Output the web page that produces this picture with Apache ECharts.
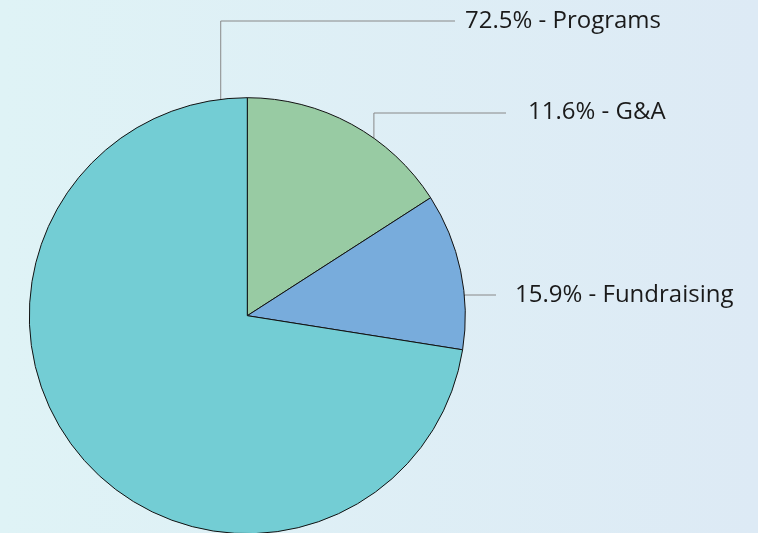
<!DOCTYPE html>
<html>
<head>
<meta charset="utf-8">
<script src="https://cdn.jsdelivr.net/npm/echarts@6/dist/echarts.min.js"></script>
<style>
html,body{margin:0;padding:0;}
#main{width:758px;height:533px;background:linear-gradient(to right,#dff3f6,#ddeaf5);}
</style>
</head>
<body>
<div id="main"></div>
<script>
const categories = ["Fundraising", "G&A", "Programs"];
const values = [15.9, 11.6, 72.5];
const colors = ["#98cba3", "#78acdc", "#73cdd4"];

const CX = 247.3, CY = 315.7, R = 218;
// label placement per category: anchor angle (deg clockwise from top), elbow, text position
const labelSpec = {
  "Programs":    { ang: -7,   elbowY: 21,  lineEndX: 455, textX: 465, textY: 21 },
  "G&A":         { ang: 35.5, elbowY: 113, lineEndX: 506, textX: 528, textY: 112 },
  "Fundraising": { ang: 84.8, elbowY: 295, lineEndX: 496, textX: 515, textY: 295 }
};

const chart = echarts.init(document.getElementById('main'), null, {renderer: 'canvas'});
chart.setOption({
  backgroundColor: 'transparent',
  animation: false,
  series: [{
    type: 'pie',
    center: [CX, CY],
    radius: R,
    startAngle: 90,
    clockwise: true,
    data: categories.map((c, i) => ({name: c, value: values[i], itemStyle: {color: colors[i]}})),
    itemStyle: {borderColor: '#111', borderWidth: 1},
    emphasis: {disabled: true},
    label: {
      show: true,
      overflow: 'none',
      formatter: p => p.value.toFixed(1) + '% - ' + p.name,
      fontFamily: 'Open Sans',
      fontSize: 24,
      color: '#1a1a1a'
    },
    labelLine: {show: true, lineStyle: {color: '#888', width: 1}, smooth: false},
    labelLayout: function (params) {
      const name = categories[params.dataIndex];
      const s = labelSpec[name];
      const a = s.ang * Math.PI / 180;
      const ax = CX + R * Math.sin(a), ay = CY - R * Math.cos(a);
      const pts = [[ax, ay], [ax, s.elbowY], [s.lineEndX, s.elbowY]];
      return {
        x: s.textX,
        y: s.textY,
        align: 'left',
        verticalAlign: 'middle',
        labelLinePoints: pts
      };
    }
  }]
});
</script>
</body>
</html>
